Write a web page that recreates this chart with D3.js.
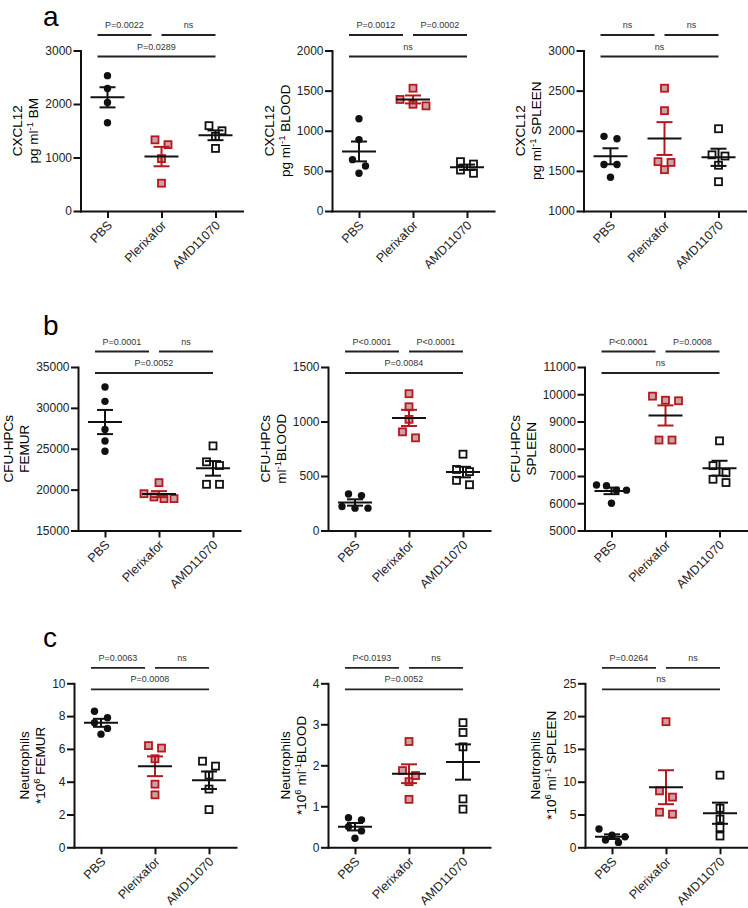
<!doctype html>
<html>
<head>
<meta charset="utf-8">
<script src="https://d3js.org/d3.v7.min.js"></script>
<style>
body { margin: 0; background: #fff; }
text { font-family: "Liberation Sans", Arial, sans-serif; }
</style>
</head>
<body>
<script type="text/javascript">
var width = 748;
var height = 908;

var groups = ["PBS", "Plerixafor", "AMD11070"];

// values, one array per group (PBS, Plerixafor, AMD11070)
var bmCxcl12 = [[2530, 2290, 2030, 1650], [1240, 1330, 980, 520], [1500, 1595, 1395, 1170]];
var bloodCxcl12 = [[1150, 890, 640, 560, 470], [1310, 1530, 1390, 1330], [585, 615, 470, 510]];
var spleenCxcl12 = [[1930, 1900, 1580, 1580, 1420], [2530, 2250, 1615, 1605, 1515], [2025, 1685, 1700, 1570, 1365]];
var femurCfu = [[32550, 30800, 27350, 25950, 24700], [20850, 18900, 19100, 19500, 18900], [25350, 22950, 23400, 20650, 20650]];
var bloodCfu = [[335, 320, 205, 220, 205], [1255, 1135, 1020, 850, 905], [700, 560, 540, 460, 420]];
var spleenCfu = [[6670, 6640, 6000, 6480, 6480], [9930, 9760, 9780, 8320, 8320], [8290, 7380, 7120, 6880, 6760]];
var femurNeut = [[8.3, 7.9, 7.6, 7.25, 6.9], [6.2, 6.05, 5.4, 3.85, 3.2], [5.25, 4.95, 4.4, 3.55, 2.3]];
var bloodNeut = [[0.72, 0.67, 0.5, 0.4, 0.22], [2.58, 1.87, 1.75, 1.6, 1.17], [3.04, 2.8, 2.45, 1.18, 0.93]];
var spleenNeut = [[1.85, 2.8, 0.75, 1.1, 1.6], [19.15, 8.6, 7.65, 5.05, 5.35], [11.0, 5.95, 4.3, 3.0, 1.72]];

var ticksBmCxcl12 = [0, 1000, 2000, 3000];
var ticksBloodCxcl12 = [0, 500, 1000, 1500, 2000];
var ticksSpleenCxcl12 = [1000, 1500, 2000, 2500, 3000];
var ticksFemurCfu = [15000, 20000, 25000, 30000, 35000];
var ticksBloodCfu = [0, 500, 1000, 1500];
var ticksSpleenCfu = [5000, 6000, 7000, 8000, 9000, 10000, 11000];
var ticksFemurNeut = [0, 2, 4, 6, 8, 10];
var ticksBloodNeut = [0, 1, 2, 3, 4];
var ticksSpleenNeut = [0, 5, 10, 15, 20, 25];

// PBS vs Plerixafor, Plerixafor vs AMD11070, PBS vs AMD11070
var pBmCxcl12 = ["P=0.0022", "ns", "P=0.0289"];
var pBloodCxcl12 = ["P=0.0012", "P=0.0002", "ns"];
var pSpleenCxcl12 = ["ns", "ns", "ns"];
var pFemurCfu = ["P=0.0001", "ns", "P=0.0052"];
var pBloodCfu = ["P<0.0001", "P<0.0001", "P=0.0084"];
var pSpleenCfu = ["P<0.0001", "P=0.0008", "ns"];
var pFemurNeut = ["P=0.0063", "ns", "P=0.0008"];
var pBloodNeut = ["P<0.0193", "ns", "P=0.0052"];
var pSpleenNeut = ["P=0.0264", "ns", "ns"];

var rowLetters = ["a", "b", "c"];
var rowTitles = ["CXCL12", "CFU-HPCs", "Neutrophils"];
// ^...^ marks a superscript
var unitsCxcl12 = ["pg ml^-1^ BM", "pg ml^-1^ BLOOD", "pg ml^-1^ SPLEEN"];
var unitsCfu = ["FEMUR", "ml^-1^BLOOD", "SPLEEN"];
var unitsNeut = ["*10^6^ FEMUR", "*10^6^ ml^-1^BLOOD", "*10^6^ ml^-1^ SPLEEN"];

// layout
var rowTop = [50.5, 367, 683.3];
var rowBottom = [211, 530.5, 847.3];
var rowLetterY = [25.5, 335, 647];
var axisX = [[80.5, 332, 583.5], [78, 328, 584.5], [74, 328, 585]];
var plotW = 162;
var red = "#b5181f";
var redFill = "#cba3a5";

var panels = [
  {row: 0, col: 0, values: bmCxcl12, ticks: ticksBmCxcl12, p: pBmCxcl12, unit: unitsCxcl12[0]},
  {row: 0, col: 1, values: bloodCxcl12, ticks: ticksBloodCxcl12, p: pBloodCxcl12, unit: unitsCxcl12[1]},
  {row: 0, col: 2, values: spleenCxcl12, ticks: ticksSpleenCxcl12, p: pSpleenCxcl12, unit: unitsCxcl12[2]},
  {row: 1, col: 0, values: femurCfu, ticks: ticksFemurCfu, p: pFemurCfu, unit: unitsCfu[0]},
  {row: 1, col: 1, values: bloodCfu, ticks: ticksBloodCfu, p: pBloodCfu, unit: unitsCfu[1]},
  {row: 1, col: 2, values: spleenCfu, ticks: ticksSpleenCfu, p: pSpleenCfu, unit: unitsCfu[2]},
  {row: 2, col: 0, values: femurNeut, ticks: ticksFemurNeut, p: pFemurNeut, unit: unitsNeut[0]},
  {row: 2, col: 1, values: bloodNeut, ticks: ticksBloodNeut, p: pBloodNeut, unit: unitsNeut[1]},
  {row: 2, col: 2, values: spleenNeut, ticks: ticksSpleenNeut, p: pSpleenNeut, unit: unitsNeut[2]}
];

var svg = d3.select("body").append("svg")
  .attr("width", width)
  .attr("height", height);

rowLetters.forEach(function (l, i) {
  svg.append("text")
    .attr("x", 43).attr("y", rowLetterY[i])
    .style("font-size", "28px")
    .text(l);
});

// spread overlapping points sideways, rows centred on the group
function spread(vals, y) {
  var pts = vals.map(function (v) { return {v: v, py: y(v), dx: 0}; });
  var sorted = pts.slice().sort(function (a, b) { return a.py - b.py; });
  var rows = [];
  sorted.forEach(function (p) {
    var last = rows[rows.length - 1];
    if (last && p.py - last[0].py < 8) last.push(p);
    else rows.push([p]);
  });
  rows.forEach(function (r) {
    var gap = r.length > 3 ? 10 : 13;
    r.forEach(function (p, i) { p.dx = (i - (r.length - 1) / 2) * gap; });
  });
  return pts;
}

function richText(sel, str) {
  var parts = str.split("^");
  parts.forEach(function (s, i) {
    if (!s) return;
    var t = sel.append("tspan").text(s);
    if (i % 2 == 1) t.attr("dy", -5).style("font-size", "9.5px");
    else if (i > 0) t.attr("dy", 5);
  });
}

function drawPanel(p) {
  var x0 = axisX[p.row][p.col];
  var top = rowTop[p.row];
  var bottom = rowBottom[p.row];
  var g = svg.append("g");

  var y = d3.scaleLinear()
    .domain([p.ticks[0], p.ticks[p.ticks.length - 1]])
    .range([bottom, top]);
  var x = d3.scalePoint().domain(groups).range([x0, x0 + plotW]).padding(0.5);

  var ya = g.append("g")
    .attr("transform", "translate(" + x0 + ",0)")
    .call(d3.axisLeft(y).tickValues(p.ticks).tickSize(7).tickSizeOuter(0).tickPadding(1.5).tickFormat(d3.format("d")));
  ya.selectAll("text").style("font-size", "12px").attr("fill", "#222");

  var xa = g.append("g")
    .attr("transform", "translate(0," + bottom + ")")
    .call(d3.axisBottom(x).tickSize(7).tickSizeOuter(0));
  xa.selectAll("text")
    .attr("x", 0).attr("y", 0).attr("dy", 0)
    .attr("transform", "translate(5,15) rotate(-45)")
    .attr("text-anchor", "end")
    .style("font-size", "12.5px").attr("fill", "#222");

  g.selectAll(".domain").attr("stroke", "#111").attr("stroke-width", 2).attr("stroke-linecap", "square");
  g.selectAll(".tick line").attr("stroke", "#111").attr("stroke-width", 2);

  // y axis title, two lines
  var w = d3.max(ya.selectAll("text").nodes(), function (n) { return n.getBBox().width; });
  var base2 = x0 - 8.5 - w - 6.5;
  var cy = (top + bottom) / 2;
  g.append("text")
    .attr("transform", "translate(" + (base2 - 16) + "," + cy + ") rotate(-90)")
    .attr("text-anchor", "middle").style("font-size", "13.5px")
    .text(rowTitles[p.row]);
  var t2 = g.append("text")
    .attr("transform", "translate(" + base2 + "," + cy + ") rotate(-90)")
    .attr("text-anchor", "middle").style("font-size", "13.5px")
    .style("white-space", "pre");
  richText(t2, p.unit);

  // points
  groups.forEach(function (grp, gi) {
    var pts = spread(p.values[gi], y);
    var cx = x(grp);
    if (gi == 0) {
      g.selectAll(null).data(pts).enter().append("circle")
        .attr("cx", function (d) { return cx + d.dx; })
        .attr("cy", function (d) { return d.py; })
        .attr("r", 3.7).attr("fill", "#111");
    } else {
      g.selectAll(null).data(pts).enter().append("rect")
        .attr("x", function (d) { return cx + d.dx - 3.5; })
        .attr("y", function (d) { return d.py - 3.5; })
        .attr("width", 7).attr("height", 7)
        .attr("fill", gi == 1 ? redFill : "#fff")
        .attr("stroke", gi == 1 ? red : "#111")
        .attr("stroke-width", 1.8);
    }
  });

  // mean and SEM
  groups.forEach(function (grp, gi) {
    var vals = p.values[gi];
    var m = d3.mean(vals);
    var sem = d3.deviation(vals) / Math.sqrt(vals.length);
    var cx = x(grp);
    var col = gi == 1 ? red : "#111";
    g.append("line")
      .attr("x1", cx).attr("x2", cx)
      .attr("y1", y(m + sem)).attr("y2", y(m - sem))
      .attr("stroke", col).attr("stroke-width", 2);
    [m + sem, m - sem].forEach(function (v) {
      g.append("line")
        .attr("x1", cx - 8).attr("x2", cx + 8)
        .attr("y1", y(v)).attr("y2", y(v))
        .attr("stroke", col).attr("stroke-width", 2);
    });
    g.append("line")
      .attr("x1", cx - 17).attr("x2", cx + 17)
      .attr("y1", y(m)).attr("y2", y(m))
      .attr("stroke", "#111").attr("stroke-width", 2);
  });

  // significance brackets
  var left = x(groups[0]) - 10;
  var right = x(groups[2]);
  var mid = (left + right) / 2;
  var bars = [
    {x1: left, x2: mid - 5, y: top - 15.5, label: p.p[0]},
    {x1: mid + 5, x2: right, y: top - 15.5, label: p.p[1]},
    {x1: left, x2: right, y: top + 6, label: p.p[2]}
  ];
  bars.forEach(function (b) {
    g.append("line")
      .attr("x1", b.x1).attr("x2", b.x2)
      .attr("y1", b.y).attr("y2", b.y)
      .attr("stroke", "#222").attr("stroke-width", 1.8);
    g.append("text")
      .attr("x", (b.x1 + b.x2) / 2).attr("y", b.y - 7)
      .attr("text-anchor", "middle")
      .style("font-size", "9px").attr("fill", "#333")
      .text(b.label);
  });
}

panels.forEach(drawPanel);
</script>
</body>
</html>
